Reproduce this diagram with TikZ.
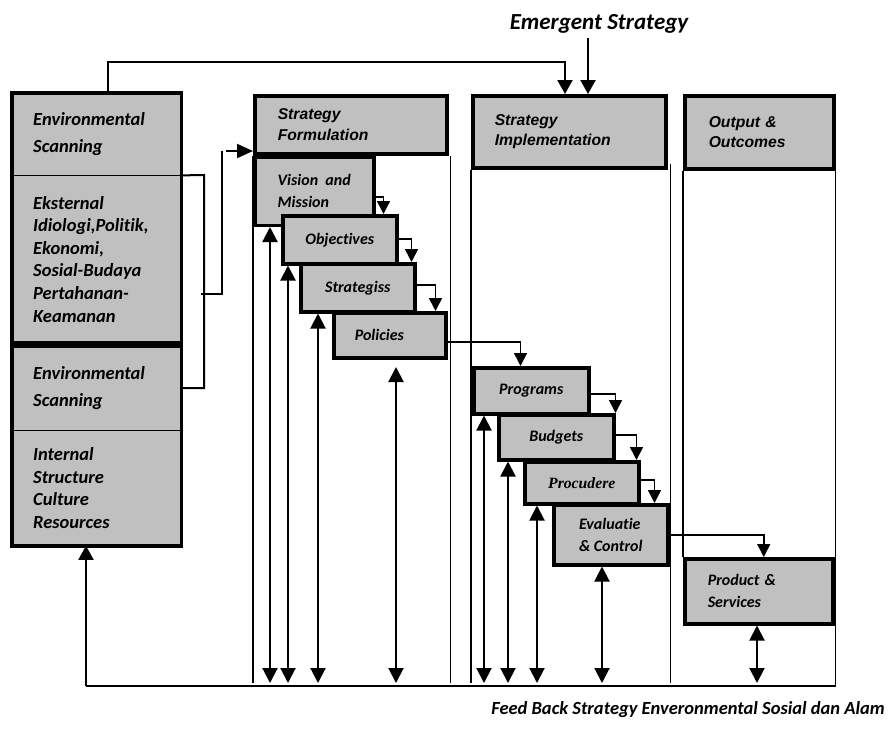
\documentclass[tikz,border=0pt]{standalone}
\usepackage{fontspec}
\newfontfamily\cbfont[Ligatures=NoCommon]{Carlito}
\newfontfamily\arfont{Liberation Sans}
\newfontfamily\tmfont{Liberation Serif}
\usepackage{xcolor}
\usetikzlibrary{calc}
\usetikzlibrary{arrows.meta}
\definecolor{boxgray}{RGB}{192,192,192}

\begin{document}
\begin{tikzpicture}[x=1pt,y=-1pt,
	gbox/.style={draw,line width=3.5pt,fill=boxgray,inner sep=0pt,anchor=north west},
	pane/.style={fill=boxgray,inner sep=0pt,anchor=north west,minimum width=169pt,
		text width=127pt,inner xsep=21pt,align=left},
	cbtxt/.style={font=\cbfont\bfseries\itshape\fontsize{18.5pt}{22.6pt}\selectfont},
	sbtxt/.style={font=\cbfont\bfseries\itshape\fontsize{16pt}{22pt}\selectfont},
	artxt/.style={font=\arfont\bfseries\itshape\fontsize{15.7pt}{20.5pt}\selectfont},
	col/.style={line width=1.5pt},
	link/.style={line width=1.6pt,-{Triangle[width=13pt,length=13pt]}},
	toparrow/.style={line width=2pt,-{Triangle[width=15pt,length=14pt]}},
	updown/.style={line width=2pt,{Triangle[width=15pt,length=15pt]}-{Triangle[width=15pt,length=15pt]}}]
\useasboundingbox (0,0) rectangle (888,736);

% environmental scanning
\node[pane,cbtxt,minimum height=82pt] (exthead) at (12,93) {Environmental\\[4pt]Scanning};
\node[pane,cbtxt,minimum height=167pt] (extbody) at (exthead.south west) {Eksternal\\Idiologi,Politik,\\Ekonomi,\\Sosial-Budaya\\Pertahanan-\\Keamanan};
\draw[line width=3.5pt] (exthead.north west) rectangle (extbody.south east);
\draw[col] (exthead.south west) -- (exthead.south east);
\node[pane,cbtxt,minimum height=84pt] (inthead) at (12,346) {Environmental\\[4pt]Scanning};
\node[pane,cbtxt,minimum height=115pt] (intbody) at (inthead.south west) {Internal\\Structure\\Culture\\Resources};
\draw[line width=3.5pt] (inthead.north west) rectangle (intbody.south east);
\draw[col] (inthead.south west) -- (inthead.south east);

% strategy formulation
\node[gbox,artxt,minimum width=192pt,minimum height=58pt,text width=146pt,inner xsep=23pt,align=left] (formhead) at (253,94) {Strategy\\Formulation};
\node[gbox,sbtxt,minimum width=119pt,minimum height=68pt,align=left] (vision) at (formhead.south west) {Vision\ \ and\\Mission};
\node[gbox,sbtxt,minimum width=114pt,minimum height=48pt] (objectives) at (281,214) {Objectives};
\node[gbox,sbtxt,minimum width=114pt,minimum height=48pt] (strategiss) at (299,262) {Strategiss};
\node[gbox,sbtxt,minimum width=112pt,minimum height=45pt,text width=70pt,inner xsep=21pt,align=left] (policies) at (332,311) {Policies};

% strategy implementation
\node[gbox,artxt,minimum width=193pt,minimum height=72pt,text width=149pt,inner xsep=22pt,align=left] (implhead) at (471,94) {Strategy\\Implementation};
\node[gbox,sbtxt,minimum width=115pt,minimum height=46pt] (programs) at (472,366) {Programs};
\node[gbox,sbtxt,minimum width=115pt,minimum height=45pt] (budgets) at (497,413) {Budgets};
\node[gbox,font=\tmfont\bfseries\itshape\fontsize{15.7pt}{18pt}\selectfont,minimum width=114pt,minimum height=42pt] (procudere) at (523,460) {Procudere};
\node[gbox,sbtxt,minimum width=114pt,minimum height=60pt,align=left] (evaluatie) at (552,503) {Evaluatie\\\& Control};

% output
\node[gbox,artxt,minimum width=149pt,minimum height=73pt,text width=101pt,inner xsep=24pt,align=left] (outhead) at (683,94) {Output \&\\Outcomes};
\node[gbox,sbtxt,minimum width=148pt,minimum height=65pt,text width=102pt,inner xsep=23pt,align=left] (product) at (683,557) {Product \&\\Services};

% column lines
\coordinate (base) at (0,683);
\coordinate (fbL) at (86,686);
\coordinate (fbR) at (outhead.south east |- fbL);
\draw[col] (formhead.south west) -- (formhead.south west |- base);
\draw[col] ($(formhead.south east)+(2,0)$) -- ($(formhead.south east |- base)+(2,0)$);
\draw[col] (implhead.south west) -- (implhead.south west |- base);
\draw[col] ($(implhead.south east)+(3,-6)$) -- ($(implhead.south east |- base)+(3,0)$);
\draw[col] (outhead.south west) -- (product.north west);
\draw[col] (outhead.south east) -- (fbR);
\draw[line width=2pt] (fbL) -- (fbR);

% feedback to internal
\draw[toparrow] (fbL) -- (fbL |- intbody.south);

% scanning to formulation
\coordinate (brk) at (204,175);
\coordinate (tk) at (201,294);
\coordinate (tkT) at (222,151);
\coordinate (inL) at (226,151);
\draw[line width=2pt] (exthead.south east) -- (brk) |- (inthead.east);
\draw[line width=2pt] (tk) -| (tkT);
\draw[line width=2pt,-{Triangle[width=14pt,length=16pt]}] (inL) -- (inL -| formhead.west);

% emergent strategy
\node[font=\cbfont\bfseries\itshape\fontsize{23pt}{27pt}\selectfont] (emergent) at (599,24) {Emergent Strategy};
\coordinate (topR) at (565,62);
\coordinate (emR) at (588,38);
\draw[toparrow] ($(exthead.north west)+(96,0)$) |- (topR) -- (topR |- implhead.north);
\draw[toparrow] (emR) -- (emR |- implhead.north);

% step links
\draw[link] ($(vision.east)+(0,6)$) -| ($(objectives.north east)+(-15,0)$);
\draw[link] ($(objectives.east)+(0,-1)$) -| ($(strategiss.north east)+(-5,0)$);
\draw[link] ($(strategiss.east)+(0,-3)$) -| ($(policies.north east)+(-12,0)$);
\draw[link] ($(policies.east)+(0,7)$) -| ($(programs.north east)+(-70,0)$);
\draw[link] ($(programs.east)+(0,3)$) -| (budgets.north east);
\draw[link] ($(budgets.east)+(0,-2)$) -| ($(procudere.north east)+(-4,0)$);
\draw[link] ($(procudere.east)+(0,-3)$) -| ($(evaluatie.north east)+(-15,0)$);
\draw[link] ($(evaluatie.east)+(0,0)$) -| ($(product.north)+(5,0)$);

% up and down arrows
\coordinate (fv) at (270,683);
\coordinate (fo) at (288,683);
\coordinate (fs) at (318,683);
\coordinate (fpT) at (396,367);
\coordinate (fpB) at (396,683);
\coordinate (ip) at (484,683);
\coordinate (ib) at (508,683);
\coordinate (ic) at (537,683);
\coordinate (ie) at (602,683);
\coordinate (op) at (757,683);
\draw[updown] (fv) -- (fv |- vision.south);
\draw[updown] (fo) -- (fo |- objectives.south);
\draw[updown] (fs) -- (fs |- strategiss.south);
\draw[updown] (fpB) -- (fpT);
\draw[updown] (ip) -- (ip |- programs.south);
\draw[updown] (ib) -- (ib |- budgets.south);
\draw[updown] (ic) -- (ic |- procudere.south);
\draw[updown] (ie) -- (ie |- evaluatie.south);
\draw[updown] (op) -- (op |- product.south);

\node[font=\cbfont\bfseries\itshape\fontsize{18.5pt}{22pt}\selectfont] (feedback) at (688,710) {Feed Back Strategy Enveronmental Sosial dan Alam};
\end{tikzpicture}
\end{document}
